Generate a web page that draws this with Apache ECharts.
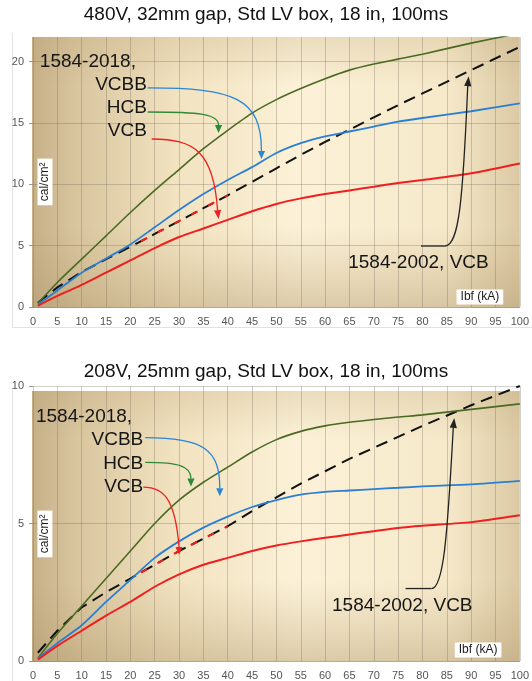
<!DOCTYPE html>
<html><head><meta charset="utf-8">
<script src="https://cdn.jsdelivr.net/npm/echarts@6/dist/echarts.min.js"></script>
<style>html,body{margin:0;padding:0;background:#fff}#c{width:532px;height:681px}</style>
</head><body><div id="c"></div>
<script>
// ---- data ----
const titles = ['480V, 32mm gap, Std LV box, 18 in, 100ms', '208V, 25mm gap, Std LV box, 18 in, 100ms'];
const xTicks = [0,5,10,15,20,25,30,35,40,45,50,55,60,65,70,75,80,85,90,95,100];
const yTicksTop = [0,5,10,15,20];
const yTicksBottom = [0,5,10];
const xKA = [1,5,10,15,20,25,30,35,40,45,50,55,60,65,70,75,80,90,100];
// 480 V chart
const top_HCB  = [0.3,2.0,3.9,5.8,7.7,9.5,11.2,12.9,14.4,15.8,16.9,17.8,18.6,19.3,19.8,20.2,20.6,21.5,22.3];
const top_VCBB = [0.2,1.35,2.8,3.95,5.1,6.5,7.9,9.2,10.35,11.4,12.55,13.35,13.9,14.3,14.7,15.1,15.4,15.95,16.6];
const top_VCB  = [0.1,0.9,1.8,2.8,3.8,4.8,5.7,6.4,7.1,7.8,8.4,8.85,9.2,9.5,9.8,10.1,10.35,10.9,11.7];
const top_2002 = [0.35,1.6,2.85,3.9,4.9,5.95,7.0,8.05,9.1,10.2,11.3,12.4,13.45,14.45,15.45,16.45,17.4,19.3,21.2];
// 208 V chart
const bot_HCB  = [0.1,1.0,2.0,3.0,4.0,5.0,5.85,6.5,7.05,7.6,8.05,8.35,8.55,8.68,8.78,8.87,8.95,9.15,9.35];
const bot_VCBB = [0.1,0.65,1.3,2.15,2.95,3.75,4.35,4.85,5.25,5.6,5.85,6.05,6.15,6.2,6.25,6.3,6.35,6.42,6.55];
const bot_VCB  = [0.05,0.55,1.1,1.65,2.15,2.7,3.15,3.5,3.75,4.0,4.2,4.35,4.48,4.6,4.72,4.84,4.92,5.05,5.3];
const bot_2002 = [0.3,1.1,1.95,2.5,3.0,3.5,4.0,4.45,4.9,5.45,5.95,6.45,6.9,7.35,7.75,8.15,8.55,9.3,10.0];
const redDashRange = [[20,40],[20,40]];

const FONT = '"Liberation Sans", Arial, sans-serif';
const C = {hcb:'#4a6a22', vcbb:'#2a7fd2', vcb:'#f01e1e', old:'#111111'};

function pairs(ys){ return xKA.map((x,i)=>[x, ys[i]]); }
function sub(ys, r){ return xKA.map((x,i)=>[x, ys[i]]).filter(p=>p[0]>=r[0] && p[0]<=r[1]); }

function seriesFor(g, hcb, vcbb, vcb, old, rr){
  return [
    {type:'line', xAxisIndex:g, yAxisIndex:g, data:pairs(old), showSymbol:false, smooth:false,
     lineStyle:{color:C.old, width:2, type:[12,7]}, z:2},
    {type:'line', xAxisIndex:g, yAxisIndex:g, data:pairs(hcb), showSymbol:false, smooth:0.25,
     lineStyle:{color:C.hcb, width:1.6}, z:3},
    {type:'line', xAxisIndex:g, yAxisIndex:g, data:pairs(vcbb), showSymbol:false, smooth:0.25,
     lineStyle:{color:C.vcbb, width:1.8}, z:4},
    {type:'line', xAxisIndex:g, yAxisIndex:g, data:pairs(vcb), showSymbol:false, smooth:0.25,
     lineStyle:{color:C.vcb, width:2}, z:5},
    {type:'line', xAxisIndex:g, yAxisIndex:g, data:sub(old, rr), showSymbol:false, smooth:false,
     lineStyle:{color:C.vcb, width:2, type:[7,12], dashOffset:-12}, z:6}
  ];
}

const splitStyle = {color:'rgba(110,98,85,0.30)', width:1};
function xAx(g){ return {type:'value', gridIndex:g, min:0, max:100, interval:5,
  axisLine:{show:false}, axisTick:{show:false}, splitLine:{show:true, lineStyle:splitStyle},
  axisLabel:{color:'#555', fontSize:11, fontFamily:FONT, margin:9, customValues:xTicks}}; }
function yAx(g, max, ticks){ return {type:'value', gridIndex:g, min:0, max:max, interval:1,
  axisLine:{show:false}, axisTick:{show:true, length:4, lineStyle:{color:'#999'}, customValues:ticks},
  splitLine:{show:true, lineStyle:splitStyle},
  axisLabel:{color:'#555', fontSize:11, fontFamily:FONT, margin:9, customValues:ticks}}; }

const chart = echarts.init(document.getElementById('c'), null, {renderer:'canvas'});
chart.setOption({
  animation:false,
  backgroundColor:'#fff',
  title:[
    {text:titles[0], left:'center', top:5, padding:0, textStyle:{fontSize:19, fontWeight:'normal', color:'#111', fontFamily:FONT}},
    {text:titles[1], left:'center', top:362, padding:0, textStyle:{fontSize:19, fontWeight:'normal', color:'#111', fontFamily:FONT}}
  ],
  grid:[
    {left:33, right:11, top:37, bottom:374},
    {left:33, right:9, top:386, bottom:18}
  ],
  xAxis:[xAx(0), xAx(1)],
  yAxis:[yAx(0, 22, yTicksTop), yAx(1, 10, yTicksBottom)],
  series:[].concat(seriesFor(0, top_HCB, top_VCBB, top_VCB, top_2002, redDashRange[0]),
                   seriesFor(1, bot_HCB, bot_VCBB, bot_VCB, bot_2002, redDashRange[1]))
});

// ---- annotations (in data coordinates) ----
const ann = [
  { g:0, yTop:22,
    labels:[['1584-2018,',1.4,20.0,'left'],['VCBB',23.4,18.1,'right'],['HCB',23.4,16.2,'right'],['VCB',23.4,14.35,'right'],['1584-2002, VCB',64.75,3.59,'left']],
    arrows:[
      {c:'#2b86d3', p:[[23.57,17.85],[41.39,17.85],[46.93,17.03],[46.93,12.71]], tip:[46.93,12.06]},
      {c:'#2f8a35', p:[[23.57,15.89],[34.22,15.89],[38.11,15.73],[38.11,14.83]], tip:[38.11,14.18]},
      {c:'#ee2222', p:[[24.39,13.69],[33.2,13.69],[37.09,12.63],[37.91,7.9]], tip:[38.11,7.17]},
      {c:'#222222', pre:[79.7,4.97], p:[[84.6,4.97],[87.5,4.97],[88.3,8.7],[89.3,18.0]], tip:[89.5,18.8]}
    ],
    cal:[2.46,10.19], ibf:[91.8,0.81] },
  { g:1, yTop:9.82,
    labels:[['1584-2018,',0.61,8.88,'left'],['VCBB',22.65,8.05,'right'],['HCB',22.65,7.18,'right'],['VCB',22.65,6.35,'right'],['1584-2002, VCB',61.43,2.02,'left']],
    arrows:[
      {c:'#2b86d3', p:[[23.06,8.12],[35.1,8.12],[38.37,7.69],[38.37,6.28]], tip:[38.37,5.99]},
      {c:'#2f8a35', p:[[23.06,7.22],[30.0,7.22],[32.45,7.08],[32.45,6.64]], tip:[32.45,6.35]},
      {c:'#ee2222', p:[[22.65,6.32],[26.94,6.32],[29.18,5.88],[30.0,4.15]], tip:[30.0,3.86]},
      {c:'#222222', pre:[76.53,2.635], p:[[81.84,2.635],[84.29,2.635],[85.1,4.44],[86.33,8.48]], tip:[86.53,8.84]}
    ],
    cal:[2.45,4.62], ibf:[91.43,0.4] }
];

const els = [];
ann.forEach(a=>{
  const P = (x,y)=>chart.convertToPixel({gridIndex:a.g},[x,y]);
  const tl = P(0, a.yTop), br = P(100, 0);
  const bx = tl[0]-1, by = tl[1], bw = br[0]-tl[0]+1, bh = br[1]-tl[1]+1;
  els.push({type:'rect', z:-10, silent:true, shape:{x:bx,y:by,width:bw,height:bh},
    style:{fill:new echarts.graphic.LinearGradient(0,0,1,0,[
      {offset:0,color:'#c6b088'},{offset:0.1,color:'#dac7a0'},{offset:0.3,color:'#f2e3c1'},
      {offset:0.55,color:'#fcf1d7'},{offset:0.85,color:'#f6e9ca'},{offset:1,color:'#dbc9a3'}])}});
  els.push({type:'rect', z:-9, silent:true, shape:{x:bx,y:by,width:bw,height:bh},
    style:{fill:new echarts.graphic.LinearGradient(0,0,0,1,[
      {offset:0,color:'rgba(185,160,115,0.25)'},{offset:0.18,color:'rgba(185,160,115,0)'},
      {offset:0.7,color:'rgba(185,160,115,0)'},{offset:1,color:'rgba(170,145,100,0.40)'}])}});
  els.push({type:'line', z:-10, silent:true, shape:{x1:12.5,y1:by-4,x2:12.5,y2:a.g===0?327:681}, style:{stroke:'#e2e2e2',lineWidth:1}});
  if (a.g===0) els.push({type:'line', z:-10, silent:true, shape:{x1:12,y1:327.5,x2:532,y2:327.5}, style:{stroke:'#e2e2e2',lineWidth:1}});
  a.labels.forEach(l=>{
    const q = P(l[1], l[2]);
    els.push({type:'text', z:20, x:q[0], y:q[1], silent:true,
      style:{text:l[0], font:'19px '+FONT, fill:'#151515', align:l[3], verticalAlign:'middle'}});
  });
  a.arrows.forEach(ar=>{
    const p = ar.p.map(v=>P(v[0],v[1]));
    if (ar.pre){ const s = P(ar.pre[0], ar.pre[1]);
      els.push({type:'line', z:20, silent:true, shape:{x1:s[0],y1:s[1],x2:p[0][0],y2:p[0][1]}, style:{stroke:ar.c,lineWidth:1.3}}); }
    els.push({type:'bezierCurve', z:20, silent:true,
      shape:{x1:p[0][0],y1:p[0][1],cpx1:p[1][0],cpy1:p[1][1],cpx2:p[2][0],cpy2:p[2][1],x2:p[3][0],y2:p[3][1]},
      style:{stroke:ar.c, lineWidth:1.3, fill:null}});
    const t = P(ar.tip[0], ar.tip[1]), b = p[3];
    let dx = t[0]-b[0], dy = t[1]-b[1]; const L = Math.hypot(dx,dy)||1; dx/=L; dy/=L;
    const hw = 3.6;
    els.push({type:'polygon', z:21, silent:true,
      shape:{points:[[t[0],t[1]],[b[0]-dy*hw,b[1]+dx*hw],[b[0]+dy*hw,b[1]-dx*hw]]},
      style:{fill:ar.c}});
  });
  const c1 = P(a.cal[0], a.cal[1]);
  els.push({type:'text', z:20, x:c1[0], y:c1[1], rotation:Math.PI/2, silent:true,
    style:{text:'cal/cm²', font:'12px '+FONT, fill:'#1a1a1a', align:'center', verticalAlign:'middle',
      backgroundColor:'#ffffff', padding:[2,4,1,4]}});
  const c2 = P(a.ibf[0], a.ibf[1]);
  els.push({type:'text', z:20, x:c2[0], y:c2[1], silent:true,
    style:{text:'Ibf (kA)', font:'12px '+FONT, fill:'#1a1a1a', align:'center', verticalAlign:'middle',
      backgroundColor:'#ffffff', padding:[2,4,1,4]}});
});
chart.setOption({graphic:{elements:els}});
</script></body></html>
